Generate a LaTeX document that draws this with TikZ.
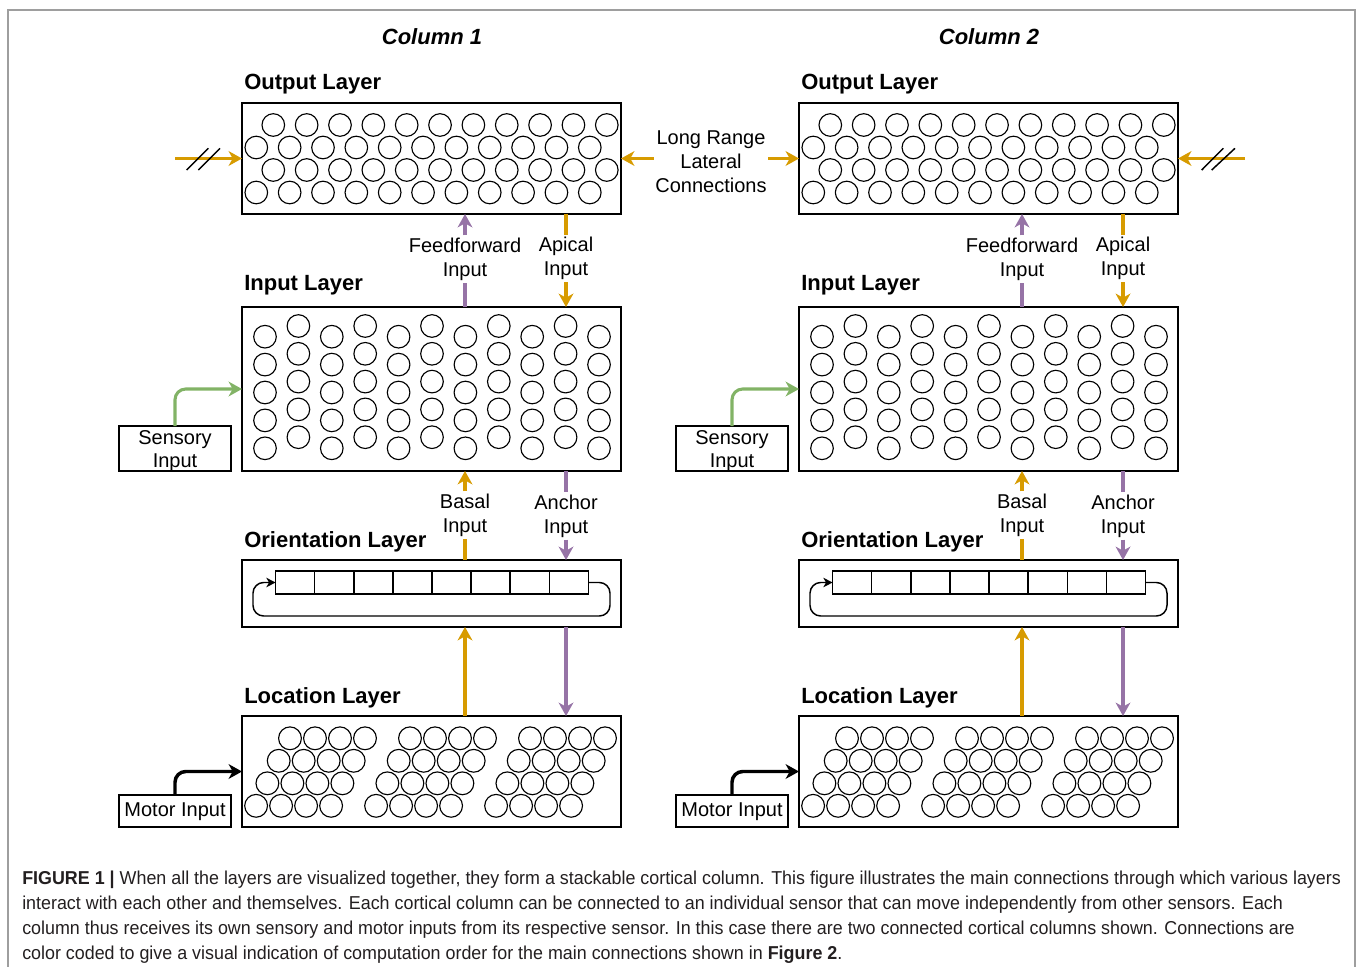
\documentclass[tikz,border=0pt]{standalone}
\usepackage{fontspec}
\setmainfont{Liberation Sans}
\newfontfamily\capfont[FakeStretch=0.958]{Liberation Sans}
\usetikzlibrary{arrows.meta}
\definecolor{org}{HTML}{D79B00}
\definecolor{pur}{HTML}{9673A6}
\definecolor{grn}{HTML}{82B366}
\definecolor{framecol}{HTML}{9E9E9E}
\definecolor{captxt}{HTML}{231F20}
\def\px{0.75pt}
\begin{document}
\begin{tikzpicture}[x=0.75pt,y=-0.75pt,
  lbl/.style={font=\fontsize{15pt}{18pt}\selectfont, align=center, inner sep=1.5pt},
  head/.style={font=\fontsize{16.5pt}{19pt}\selectfont\bfseries, anchor=base west, inner sep=0pt},
  layer/.style={draw, line width=1.2pt, inner sep=0pt, outer sep=0pt, anchor=north west, minimum width=379*\px},
  cir/.style={line width=0.85pt},
  wire/.style={line width=2.3pt},
  conn/.style={line width=2.3pt, -{Stealth[length=10pt,width=11pt,inset=3pt]}},
  inbox/.style={draw, line width=1.2pt, inner sep=0pt, outer sep=0pt, minimum width=112*\px},
  intext/.style={align=center, inner sep=0pt, font=\fontsize{15pt}{17.25pt}\selectfont},
  captionline/.style={font=\capfont\fontsize{14pt}{16pt}\selectfont, text=captxt, anchor=base west, inner sep=0pt}
]
\useasboundingbox (0,0) rectangle (1358,966);
\draw[framecol, line width=1.1pt] (8,968) -- (8,10) -- (1355,10) -- (1355,968);

\foreach \c/\dx in {1/0,2/557}{
\begin{scope}[shift={(\dx,0)}]
  % titles
  \node[head, font=\fontsize{16.5pt}{19pt}\selectfont\bfseries\itshape, anchor=base] (col\c) at (432,45) {Column \c};
  \node[head] (outl\c) at (244,90) {Output Layer};
  \node[head] (inl\c) at (244,290) {Input Layer};
  \node[head] (oril\c) at (244,547) {Orientation Layer};
  \node[head] (locl\c) at (244,703) {Location Layer};
  % layer boxes
  \node[layer, minimum height=111*\px] (out\c) at (242,103) {};
  \node[layer, minimum height=164*\px] (in\c) at (242,307) {};
  \node[layer, minimum height=67*\px] (ori\c) at (242,560) {};
  \node[layer, minimum height=111*\px] (loc\c) at (242,716) {};
  % output circles
  \foreach \k in {0,...,10}{
    \draw[cir] (273.3+33.35*\k,125) circle[radius=11.3];
    \draw[cir] (256.3+33.35*\k,147.5) circle[radius=11.3];
    \draw[cir] (273.3+33.35*\k,170) circle[radius=11.3];
    \draw[cir] (256.3+33.35*\k,192.5) circle[radius=11.3];
  }
  % input circles
  \foreach \k in {0,2,...,10}{
    \foreach \j in {0,...,4}{
      \draw[cir] (265+33.4*\k,336.7+27.9*\j) circle[radius=11.3];
    }
  }
  \foreach \k in {1,3,...,9}{
    \foreach \j in {0,...,4}{
      \draw[cir] (265+33.4*\k,326+27.8*\j) circle[radius=11.3];
    }
  }
  % orientation strip
  \node[draw, line width=1pt, inner sep=0pt, outer sep=0pt, minimum width=312.6*\px, minimum height=23*\px, anchor=north west] (strip\c) at (275.7,571) {};
  \foreach \k in {1,...,7}{
    \draw[line width=1pt] (275.7+39.075*\k,571) -- (275.7+39.075*\k,594);
  }
  \draw[line width=1.1pt, rounded corners=8, -{Stealth[length=7pt,width=7pt,inset=2pt]}]
    (strip\c.east) -- (610,582.5) -- (610,616) -- (253,616) -- (253,582.5) -- (strip\c.west);
  % location circles
  \foreach \g in {0,1,2}{
    \foreach \r in {0,...,3}{
      \foreach \i in {0,...,3}{
        \draw[cir] (290+120*\g-11.3*\r+25*\i,738.3+22.5*\r) circle[radius=11.4];
      }
    }
  }
  % connection labels
  \node[lbl] (ff\c) at (465,259) {Feedforward\\Input};
  \node[lbl] (ap\c) at (566,258.5) {Apical\\Input};
  \node[lbl] (ba\c) at (465,515) {Basal\\Input};
  \node[lbl] (an\c) at (566,516) {Anchor\\Input};
  % connectors
  \draw[wire, pur] (in\c.north -| ff\c) -- (ff\c.south);
  \draw[conn, pur] (ff\c.north) -- (out\c.south -| ff\c);
  \draw[wire, org] (out\c.south -| ap\c) -- (ap\c.north);
  \draw[conn, org] (ap\c.south) -- (in\c.north -| ap\c);
  \draw[wire, org] (ori\c.north -| ba\c) -- (ba\c.south);
  \draw[conn, org] (ba\c.north) -- (in\c.south -| ba\c);
  \draw[wire, pur] (in\c.south -| an\c) -- (an\c.north);
  \draw[conn, pur] (an\c.south) -- (ori\c.north -| an\c);
  \draw[conn, org] (loc\c.north -| ba\c) -- (ori\c.south -| ba\c);
  \draw[conn, pur] (ori\c.south -| an\c) -- (loc\c.north -| an\c);
  % sensory and motor inputs
  \node[inbox, minimum height=45*\px] (sen\c) at (175,448.5) {};
  \node[intext] (sent\c) at (175,451.5) {Sensory\\Input};
  \node[inbox, minimum height=32*\px] (mot\c) at (175,811) {};
  \node[intext] (mott\c) at (175,812) {Motor Input};
  \draw[conn, grn, rounded corners=8] (sen\c.north) |- (in\c.west);
  \draw[conn, black, line width=2.6pt, rounded corners=8] (mot\c.north) |- (loc\c.west);
\end{scope}
}

% long range lateral connections
\node[lbl, inner sep=1pt] (lr) at (711,161.5) {Long Range\\Lateral\\Connections};
\draw[conn, org] (out1.east -| lr.west) -- (out1.east);
\draw[conn, org] (out2.west -| lr.east) -- (out2.west);
% external lateral inputs
\coordinate (ext1) at (175,158.5);
\coordinate (ext2) at (1245,158.5);
\draw[conn, org] (ext1) -- (out1.west);
\draw[conn, org] (ext2) -- (out2.east);
\draw[line width=1.1pt] (186.7,170) -- (208.3,148.3);
\draw[line width=1.1pt] (198.3,170) -- (220,148.3);
\draw[line width=1.1pt] (1201.7,170) -- (1223.3,148.3);
\draw[line width=1.1pt] (1211.7,170) -- (1235,148.3);

% caption
\node[captionline] (cap1) at (22,884) {\textbf{FIGURE 1 |} When all the layers are visualized together, they form a stackable cortical column. This figure illustrates the main connections through which various layers};
\node[captionline] (cap2) at (22,909) {interact with each other and themselves. Each cortical column can be connected to an individual sensor that can move independently from other sensors. Each};
\node[captionline] (cap3) at (22,934) {column thus receives its own sensory and motor inputs from its respective sensor. In this case there are two connected cortical columns shown. Connections are};
\node[captionline] (cap4) at (22,959) {color coded to give a visual indication of computation order for the main connections shown in \textbf{Figure 2}.};
\end{tikzpicture}
\end{document}
